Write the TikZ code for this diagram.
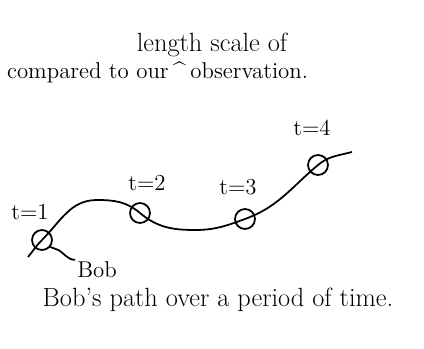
\documentclass[tikz,border=0pt]{standalone}
\usepackage{tikz}
\usetikzlibrary{positioning}

\begin{document}
\begin{tikzpicture}[
  x=0.02cm, y=0.02cm,
  note/.style={font=\fontsize{13}{15}\selectfont, inner sep=1pt},
  bignote/.style={font=\fontsize{15}{17}\selectfont, inner sep=1pt},
  spot/.style={draw, circle, line width=1pt, minimum size=0.4cm, inner sep=0pt},
  track/.style={line width=1pt}
]
  \useasboundingbox (0,0) rectangle (424,349);

  \node[bignote] (head) at (212,304) {length scale of};
  \node[note, anchor=base west] (obs1) at (5,270) {compared to our};
  \node[note, base right=10pt of obs1] (obs2) {observation.};
  \node[note, anchor=base] (caret) at ([xshift=5pt]obs1.base east) {\^{}};

  % positions along the path
  \coordinate (start) at (28,92);
  \node[spot] (p1) at (42,109) {};
  \coordinate (peak) at (97,149);
  \node[spot] (p2) at (140,136) {};
  \coordinate (dip) at (195,119);
  \node[spot] (p3) at (245,130) {};
  \node[spot] (p4) at (318,184) {};
  \coordinate (stop) at (352,197);

  \node[note] (l1) at (30,137) {t=1};
  \node[note] (l2) at (147,166) {t=2};
  \node[note] (l3) at (238,162) {t=3};
  \node[note] (l4) at (312,221) {t=4};

  \draw[track] (start) to[out=50,in=225] (p1.center) to[out=45,in=180] (peak)
    to[out=0,in=140] (p2.center) to[out=-40,in=180] (dip)
    to[out=0,in=200] (p3.center) to[out=20,in=220] (p4.center)
    to[out=40,in=195] (stop);

  \node[note] (bob) at (97,79) {Bob};
  \draw[track] (p1.-40) to[out=-30,in=150] ++(8,-3) to[out=-30,in=180] (bob.north west);

  \node[bignote] (cap) at (218,49) {Bob's path over a period of time.};
\end{tikzpicture}
\end{document}
